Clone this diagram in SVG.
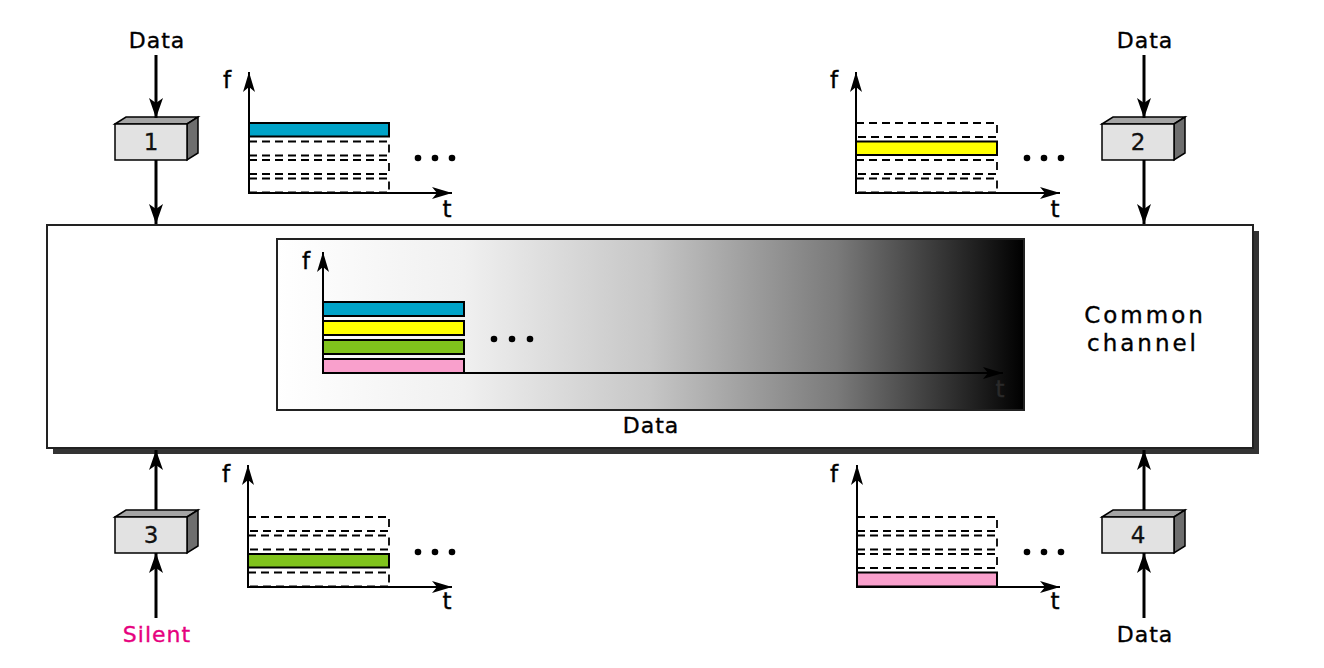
<svg xmlns="http://www.w3.org/2000/svg" width="1324" height="668" viewBox="0 0 1324 668">
<style>
.lbl{font-family:"DejaVu Sans","Liberation Sans",sans-serif;font-size:22px;fill:#000;stroke:#000;stroke-width:0.35;letter-spacing:1px;text-anchor:middle}
.cc{font-size:23px;letter-spacing:3px}
.ax{font-family:"DejaVu Sans","Liberation Sans",sans-serif;font-size:23px;fill:#000;stroke:#000;stroke-width:0.4;text-anchor:middle}
.num{font-family:"DejaVu Sans","Liberation Sans",sans-serif;font-size:23px;fill:#111;stroke:#111;stroke-width:0.3;text-anchor:middle}
.conn{stroke:#000;stroke-width:3;fill:none;marker-end:url(#ah)}
.axis{stroke:#000;stroke-width:2;fill:none;marker-end:url(#ah2)}
.slot{fill:none;stroke:#000;stroke-width:1.8;stroke-dasharray:8 5}
.bar{stroke:#000;stroke-width:2}
.front{fill:#e2e2e2;stroke:#000;stroke-width:1.5}
.top{fill:#a4a4a4;stroke:#000;stroke-width:1.5}
.side{fill:#6e6e6e;stroke:#000;stroke-width:1.5}
.dot{fill:#000}
</style>
<defs>
<marker id="ah" markerUnits="userSpaceOnUse" markerWidth="22" markerHeight="16" refX="20" refY="7" orient="auto">
<path d="M0,0 L20,7 L0,14 L5,7 Z" fill="#000"/>
</marker>
<marker id="ah2" markerUnits="userSpaceOnUse" markerWidth="22" markerHeight="16" refX="20" refY="7" orient="auto">
<path d="M0,1 L20,7 L0,13 L5,7 Z" fill="#000"/>
</marker>
<linearGradient id="grad" x1="0" y1="0" x2="1" y2="0">
<stop offset="0" stop-color="#ffffff"/>
<stop offset="0.25" stop-color="#f0f0f0"/>
<stop offset="0.5" stop-color="#c6c6c6"/>
<stop offset="0.75" stop-color="#7a7a7a"/>
<stop offset="1" stop-color="#000000"/>
</linearGradient>
</defs>

<g id="channel">
<rect x="53" y="231" width="1206" height="223" fill="#333"/>
<rect x="47" y="225" width="1206" height="223" fill="#fff" stroke="#222" stroke-width="2"/>
<text class="lbl cc" x="1145" y="323">Common</text>
<text class="lbl cc" x="1143" y="351">channel</text>
</g>

<g id="multiplexed">
<rect x="277" y="239" width="747" height="171" fill="url(#grad)" stroke="#222" stroke-width="2"/>
<rect class="bar" x="323" y="302" width="141" height="14" fill="#00a3c8"/>
<rect class="bar" x="323" y="321" width="141" height="14" fill="#ffff00"/>
<rect class="bar" x="323" y="340" width="141" height="14" fill="#80c31c"/>
<rect class="bar" x="323" y="359" width="141" height="14" fill="#f9a0cc"/>
<line class="axis" x1="323" y1="374" x2="323" y2="252"/>
<line class="axis" x1="322" y1="373" x2="1003" y2="373"/>
<text class="ax" x="306" y="269">f</text>
<text class="ax" x="1000" y="397" style="fill:#2a2a2a;stroke:#2a2a2a">t</text>
<circle class="dot" cx="494" cy="339" r="3.3"/>
<circle class="dot" cx="512" cy="339" r="3.3"/>
<circle class="dot" cx="530" cy="339" r="3.3"/>
<text class="lbl" x="651" y="433">Data</text>
</g>

<g id="station1">
<polygon class="top" points="115,124 126,117 198,117 187,124"/>
<polygon class="side" points="187,124 198,117 198,153 187,160"/>
<rect class="front" x="115" y="124" width="72" height="36"/>
<text class="num" x="151" y="150">1</text>
</g>
<g id="station2">
<polygon class="top" points="1102,124 1113,117 1185,117 1174,124"/>
<polygon class="side" points="1174,124 1185,117 1185,153 1174,160"/>
<rect class="front" x="1102" y="124" width="72" height="36"/>
<text class="num" x="1138" y="150">2</text>
</g>
<g id="station3">
<polygon class="top" points="115,517 126,510 198,510 187,517"/>
<polygon class="side" points="187,517 198,510 198,546 187,553"/>
<rect class="front" x="115" y="517" width="72" height="36"/>
<text class="num" x="151" y="543">3</text>
</g>
<g id="station4">
<polygon class="top" points="1102,517 1113,510 1185,510 1174,517"/>
<polygon class="side" points="1174,517 1185,510 1185,546 1174,553"/>
<rect class="front" x="1102" y="517" width="72" height="36"/>
<text class="num" x="1138" y="543">4</text>
</g>

<g id="labels">
<text class="lbl" x="157" y="48">Data</text>
<text class="lbl" x="1145" y="48">Data</text>
<text class="lbl" x="157" y="642" style="fill:#e6007e;stroke:#e6007e">Silent</text>
<text class="lbl" x="1145" y="642">Data</text>
</g>

<g id="chart1">
<rect class="slot" x="249" y="141.5" width="140" height="14"/>
<rect class="slot" x="249" y="160" width="140" height="14"/>
<rect class="slot" x="249" y="178.5" width="140" height="14"/>
<rect class="bar" x="249" y="123" width="140" height="13.5" fill="#00a3c8"/>
<line class="axis" x1="249" y1="194" x2="249" y2="72"/>
<line class="axis" x1="248" y1="193" x2="452" y2="193"/>
<text class="ax" x="227" y="88">f</text>
<text class="ax" x="447" y="217">t</text>
<circle class="dot" cx="418" cy="158" r="3.3"/>
<circle class="dot" cx="435" cy="158" r="3.3"/>
<circle class="dot" cx="452" cy="158" r="3.3"/>
</g>

<g id="chart2">
<rect class="slot" x="856" y="123" width="141" height="14"/>
<rect class="slot" x="856" y="160" width="141" height="14"/>
<rect class="slot" x="856" y="178.5" width="141" height="14"/>
<rect class="bar" x="856" y="141.5" width="141" height="13.5" fill="#ffff00"/>
<line class="axis" x1="856" y1="194" x2="856" y2="72"/>
<line class="axis" x1="855" y1="193" x2="1060" y2="193"/>
<text class="ax" x="834" y="88">f</text>
<text class="ax" x="1055" y="217">t</text>
<circle class="dot" cx="1027" cy="158" r="3.3"/>
<circle class="dot" cx="1044" cy="158" r="3.3"/>
<circle class="dot" cx="1061" cy="158" r="3.3"/>
</g>

<g id="chart3">
<rect class="slot" x="248" y="517" width="141" height="14"/>
<rect class="slot" x="248" y="535.5" width="141" height="14"/>
<rect class="slot" x="248" y="572.5" width="141" height="14"/>
<rect class="bar" x="248" y="554" width="141" height="13.5" fill="#80c31c"/>
<line class="axis" x1="248" y1="588" x2="248" y2="465"/>
<line class="axis" x1="247" y1="587" x2="452" y2="587"/>
<text class="ax" x="226" y="482">f</text>
<text class="ax" x="447" y="609">t</text>
<circle class="dot" cx="418" cy="552" r="3.3"/>
<circle class="dot" cx="435" cy="552" r="3.3"/>
<circle class="dot" cx="452" cy="552" r="3.3"/>
</g>

<g id="chart4">
<rect class="slot" x="857" y="517" width="140" height="14"/>
<rect class="slot" x="857" y="535.5" width="140" height="14"/>
<rect class="slot" x="857" y="554" width="140" height="14"/>
<rect class="bar" x="857" y="572.5" width="140" height="14" fill="#f9a0cc"/>
<line class="axis" x1="857" y1="588" x2="857" y2="465"/>
<line class="axis" x1="856" y1="587" x2="1060" y2="587"/>
<text class="ax" x="834" y="482">f</text>
<text class="ax" x="1055" y="609">t</text>
<circle class="dot" cx="1027" cy="552" r="3.3"/>
<circle class="dot" cx="1044" cy="552" r="3.3"/>
<circle class="dot" cx="1061" cy="552" r="3.3"/>
</g>

<g id="connectors">
<line class="conn" x1="156" y1="55" x2="156" y2="118"/>
<line class="conn" x1="156" y1="160" x2="156" y2="224"/>
<line class="conn" x1="1144" y1="55" x2="1144" y2="118"/>
<line class="conn" x1="1144" y1="160" x2="1144" y2="224"/>
<line class="conn" x1="156" y1="618" x2="156" y2="553"/>
<line class="conn" x1="156" y1="510" x2="156" y2="450"/>
<line class="conn" x1="1144" y1="618" x2="1144" y2="553"/>
<line class="conn" x1="1144" y1="510" x2="1144" y2="450"/>
</g>
</svg>
